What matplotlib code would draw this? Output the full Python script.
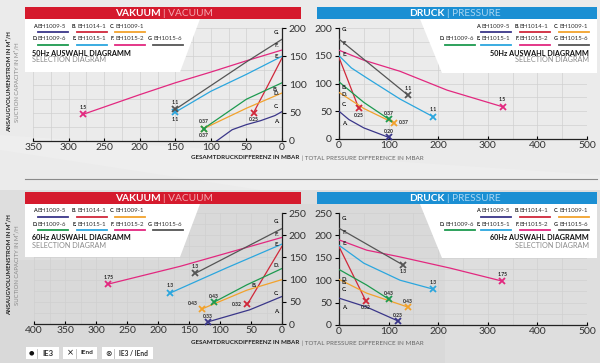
import matplotlib
matplotlib.use('Agg')
import matplotlib.pyplot as plt
from matplotlib.patches import Polygon
from matplotlib.lines import Line2D
from matplotlib.ticker import MultipleLocator

plt.rcParams['font.family'] = ['Lato', 'DejaVu Sans']

# ---------------- data ----------------
letters = ['A', 'B', 'C', 'D', 'E', 'F', 'G']
models = ['BH1009-5', 'BH1014-1', 'BH1009-1', 'BH1009-6', 'BH1015-1', 'BH1015-2', 'BH1015-6']
colors = ['#3a3689', '#d0283a', '#f2a22c', '#1d9a4f', '#2ba6de', '#e2287f', '#555555']

# vacuum 50 Hz: pressure difference (mbar) -> capacity (m3/h)
vac50_A = ([0, 10, 30, 50, 70, 92], [52, 45, 36, 29, 20, 0])
vac50_B = ([0, 20, 40], [147, 98, 50])
vac50_C = ([0, 50, 110], [85, 58, 22])
vac50_D = ([0, 50, 110], [103, 74, 22])
vac50_E = ([0, 50, 100, 150], [150, 118, 88, 51])
vac50_F = ([0, 50, 100, 150, 200, 280], [161, 142, 122, 103, 82, 47])
vac50_G = ([0, 50, 100, 150], [180, 140, 98, 56])
vac50_kw = [None, '0.25', '0.37', '0.37', '1.1', '1.5', '1.1']

# pressure 50 Hz
prs50_A = ([0, 20, 50, 100], [50, 35, 20, 3])
prs50_B = ([0, 40], [147, 55])
prs50_C = ([0, 50, 110], [84, 55, 29])
prs50_D = ([0, 50, 100], [103, 66, 36])
prs50_E = ([0, 25, 56, 123, 190], [150, 128, 110, 72, 40])
prs50_F = ([0, 50, 123, 218, 330], [160, 142, 122, 88, 58])
prs50_G = ([0, 139], [180, 79])
prs50_kw = ['0.20', '0.25', '0.37', '0.37', '1.1', '1.5', '1.1']

# vacuum 60 Hz
vac60_A = ([0, 52, 119], [62, 32, 5])
vac60_B = ([0, 56], [175, 44])
vac60_C = ([0, 57, 129], [100, 76, 34])
vac60_D = ([0, 57, 110], [125, 88, 49])
vac60_E = ([0, 90, 180], [180, 126, 70])
vac60_F = ([0, 164, 280], [195, 130, 90])
vac60_G = ([0, 140], [215, 114])
vac60_kw = ['0.33', '0.32', '0.43', '0.43', '1.3', '1.75', '1.3']

# pressure 60 Hz
prs60_A = ([0, 56, 119], [60, 40, 9])
prs60_B = ([0, 54], [175, 54])
prs60_C = ([0, 56, 139], [102, 71, 40])
prs60_D = ([0, 56, 100], [124, 89, 58])
prs60_E = ([0, 50, 123, 190], [178, 138, 100, 80])
prs60_F = ([0, 56, 123, 224, 329], [190, 167, 152, 127, 98])
prs60_G = ([0, 129], [216, 134])
prs60_kw = ['0.23', '0.32', '0.43', '0.43', '1.3', '1.75', '1.3']

vac50 = [vac50_A, vac50_B, vac50_C, vac50_D, vac50_E, vac50_F, vac50_G]
prs50 = [prs50_A, prs50_B, prs50_C, prs50_D, prs50_E, prs50_F, prs50_G]
vac60 = [vac60_A, vac60_B, vac60_C, vac60_D, vac60_E, vac60_F, vac60_G]
prs60 = [prs60_A, prs60_B, prs60_C, prs60_D, prs60_E, prs60_F, prs60_G]

# ---------------- figure ----------------
W, H = 600, 363
fig = plt.figure(figsize=(6, 3.63), dpi=100)
fig.patch.set_facecolor('#ebebeb')


def P(x, y):
    return (x / W, 1 - y / H)


def poly(pts, color, z, ec='none'):
    fig.add_artist(Polygon([P(*p) for p in pts], closed=True, transform=fig.transFigure,
                           facecolor=color, edgecolor=ec, lw=0.6, zorder=z))


def txt(x, y, s, **kw):
    kw.setdefault('zorder', 5)
    fig.text(x / W, 1 - y / H, s, transform=fig.transFigure, **kw)


# background shapes
poly([(0, 150), (260, 190), (600, 190), (600, 175), (0, 135)], '#eeeeee', -4)
poly([(0, 190), (600, 190), (600, 363), (0, 363)], '#dedede', -4)
poly([(180, 204), (420, 204), (445, 260), (445, 363), (0, 363), (0, 260), (180, 260)], '#d9d9d9', -4)
fig.add_artist(Line2D([25 / W, 597 / W], [1 - 179 / H, 1 - 179 / H], color='#8a8a8a', lw=0.8,
                      transform=fig.transFigure, zorder=-3))

GRID = '#d0d0d0'


def make_ax(x0, x1, ytop, ybot, xlim, ylim, vacuum, xmaj, ymaj):
    ax = fig.add_axes([x0 / W, 1 - ybot / H, (x1 - x0) / W, (ybot - ytop) / H])
    ax.set_facecolor('none')
    ax.set_zorder(0)
    ax.set_xlim(*xlim)
    ax.set_ylim(*ylim)
    ax.xaxis.set_major_locator(MultipleLocator(xmaj))
    ax.xaxis.set_minor_locator(MultipleLocator(xmaj / 2))
    ax.yaxis.set_major_locator(MultipleLocator(ymaj))
    ax.yaxis.set_minor_locator(MultipleLocator(ymaj / 2))
    ax.grid(True, which='both', color=GRID, lw=0.5)
    ax.set_axisbelow(True)
    for s in ['top', 'left', 'right', 'bottom']:
        ax.spines[s].set_color('#222222')
        ax.spines[s].set_linewidth(0.9)
    ax.spines['top'].set_visible(False)
    if vacuum:
        ax.spines['left'].set_visible(False)
        ax.yaxis.tick_right()
    else:
        ax.spines['right'].set_visible(False)
    ax.tick_params(axis='y', which='major', direction='out', length=3, width=0.8,
                   labelsize=7.5, labelcolor='#333333', pad=2)
    ax.tick_params(axis='x', which='major', direction='in', length=2.5, width=0.8,
                   labelsize=7.5, labelcolor='#333333', pad=1.5)
    ax.tick_params(which='minor', length=0)
    return ax


def draw(ax, data, kws, lab_pos, lab_dy):
    for i, (xs, ys) in enumerate(data):
        c = colors[i]
        ax.plot(xs, ys, color=c, lw=0.9, clip_on=True, zorder=3)
        if kws[i] is not None:
            ax.plot(xs[-1], ys[-1], marker='x', ms=4.2, mew=1.3, color=c, zorder=4, clip_on=False)
            dx, dy = lab_pos[i]
            ha = 'center' if dx == 0 else ('left' if dx > 0 else 'right')
            ax.annotate(kws[i], (xs[-1], ys[-1]), xytext=(dx, dy), textcoords='offset points',
                        ha=ha, va='center', fontsize=3.6, fontweight='bold', color='#222222', zorder=5)
        lx, ly = lab_dy[i]
        ax.annotate(letters[i] + '.', (xs[0], ys[0]), xytext=(lx, ly), textcoords='offset points',
                    ha='center', va='center', fontsize=4.2, fontweight='bold', color='#222222', zorder=5)


ax1 = make_ax(33, 282, 28, 141, (350, 0), (0, 200), True, 50, 50)
draw(ax1, vac50, vac50_kw,
     [None, (0, -5), (0, 5), (0, -5), (0, -5), (0, 5), (0, 5)],
     [(-4, -7), (-5, -23), (-4, -10), (-4, -8), (-4, 0), (-4, 3), (-4, 5)])
ax2 = make_ax(339, 587, 28, 139, (0, 500), (0, 200), False, 100, 50)
draw(ax2, prs50, prs50_kw,
     [(0, 4), (0, -5), (4, 0), (0, 4), (0, 5), (0, 5), (0, 5)],
     [(4, -9), (4, -22), (4, -9), (4, -9), (4, 1), (4, 5), (4, 7)])
ax3 = make_ax(34, 282, 213, 324, (400, 0), (0, 250), True, 50, 50)
draw(ax3, vac60, vac60_kw,
     [(0, 4), (-4, 0), (-3, 4), (0, 4), (0, 5), (0, 5), (0, 5)],
     [(-4, -11), (-20, -28), (-4, -10), (-4, 2), (-4, 0), (-4, 2), (-4, 5)])
ax4 = make_ax(339, 587, 213, 325, (0, 500), (0, 250), False, 100, 50)
draw(ax4, prs60, prs60_kw,
     [(0, 4), (0, -5), (0, 4), (0, 4), (0, 5), (0, 5), (0, -5)],
     [(4, -7), (4, -26), (4, -7), (4, -7), (4, 1), (4, 5), (4, 7)])

# ---------------- overlay: headers, white boxes, legends ----------------
RED = '#d51a2d'
BLUE = '#1b8fd3'
NAME_FS = 4.4
LET_FS = 3.9
for yoff in (0, 185):
    poly([(25, 7 + yoff), (301, 7 + yoff), (301, 19 + yoff), (25, 19 + yoff)], RED, 2)
    poly([(317, 7 + yoff), (597, 7 + yoff), (597, 19 + yoff), (317, 19 + yoff)], BLUE, 2)
    poly([(25, 19 + yoff), (200, 19 + yoff), (180, 72 + yoff), (25, 72 + yoff)], 'white', 2)
    poly([(420, 19 + yoff), (597, 19 + yoff), (597, 73 + yoff), (442, 73 + yoff)], 'white', 2)
    txt(161, 13.5 + yoff, 'VAKUUM', ha='right', va='center', fontsize=7.3, fontweight='bold', color='white')
    txt(163, 13.5 + yoff, '| VACUUM', ha='left', va='center', fontsize=7.3, color='#f3aab2')
    txt(445, 13.5 + yoff, 'DRUCK', ha='right', va='center', fontsize=7.3, fontweight='bold', color='white')
    txt(447, 13.5 + yoff, '| PRESSURE', ha='left', va='center', fontsize=7.3, color='#a9d6f2')

    hz = '50Hz' if yoff == 0 else '60Hz'
    colsL = [38, 77, 115, 153]
    rows = [(26, [0, 1, 2]), (39, [3, 4, 5, 6])]
    for ry, idxs in rows:
        for k, i in enumerate(idxs):
            x = colsL[k]
            txt(x - 0.3, ry + yoff, letters[i] + '.', ha='right', va='center', fontsize=LET_FS,
                fontweight='bold', color='#222222')
            txt(x, ry + yoff, models[i], ha='left', va='center', fontsize=NAME_FS, color='#333333')
            fig.add_artist(Line2D([x / W, (x + 30) / W], [1 - (ry + 6 + yoff) / H] * 2, color=colors[i],
                                  lw=1.3, transform=fig.transFigure, zorder=5))
    txt(32, 53 + yoff, hz + ' AUSWAHL DIAGRAMM', ha='left', va='center', fontsize=5.2,
        fontweight='bold', color='#111111')
    txt(32, 60 + yoff, 'SELECTION DIAGRAM', ha='left', va='center', fontsize=5.2, color='#8a8a8a')
    colsR = [445, 481, 520, 559]
    rowsR = [(26, [None, 0, 1, 2]), (39, [3, 4, 5, 6])]
    for ry, idxs in rowsR:
        for k, i in enumerate(idxs):
            if i is None:
                continue
            x = colsR[k]
            txt(x - 0.3, ry + yoff, letters[i] + '.', ha='right', va='center', fontsize=LET_FS,
                fontweight='bold', color='#222222')
            txt(x, ry + yoff, models[i], ha='left', va='center', fontsize=NAME_FS, color='#333333')
            fig.add_artist(Line2D([x / W, (x + 30) / W], [1 - (ry + 6 + yoff) / H] * 2, color=colors[i],
                                  lw=1.3, transform=fig.transFigure, zorder=5))
    txt(589, 53 + yoff, hz + ' AUSWAHL DIAGRAMM', ha='right', va='center', fontsize=5.2,
        fontweight='bold', color='#111111')
    txt(589, 60 + yoff, 'SELECTION DIAGRAM', ha='right', va='center', fontsize=5.2, color='#8a8a8a')

for yc in (82, 265):
    txt(9, yc, 'ANSAUGVOLUMENSTROM IN M³/H', rotation=90, ha='center', va='center',
        fontsize=4.3, fontweight='bold', color='#222222')
    txt(17, yc, 'SUCTION CAPACITY IN M³/H', rotation=90, ha='center', va='center',
        fontsize=4.3, color='#888888')
for yc in (158, 343):
    txt(299, yc, 'GESAMTDRUCKDIFFERENZ IN MBAR', ha='right', va='center', fontsize=4.5,
        fontweight='bold', color='#222222')
    txt(300, yc, ' | TOTAL PRESSURE DIFFERENCE IN MBAR', ha='left', va='center', fontsize=4.5,
        color='#666666')

boxes = [(26, 59), (63, 97), (102, 153)]
for bx0, bx1 in boxes:
    poly([(bx0, 347), (bx1, 347), (bx1, 359), (bx0, 359)], 'white', 2)
for d in (37, 76, 114):
    fig.add_artist(Line2D([d / W] * 2, [1 - 348.5 / H, 1 - 357.5 / H], color='#bbbbbb', lw=0.6,
                          transform=fig.transFigure, zorder=4))
txt(31, 353, '●', ha='center', va='center', fontsize=4.5, color='#111111', family='DejaVu Sans')
txt(48, 353, 'IE3', ha='center', va='center', fontsize=5.5, fontweight='bold', color='#2a2a2a')
txt(70, 353, '×', ha='center', va='center', fontsize=6, color='#111111', family='DejaVu Sans')
txt(87, 353, 'IEnd', ha='center', va='center', fontsize=4.6, fontweight='bold', color='#2a2a2a')
txt(108, 353, '⊗', ha='center', va='center', fontsize=5.5, color='#111111', family='DejaVu Sans')
txt(133, 353, 'IE3 / IEnd', ha='center', va='center', fontsize=4.8, fontweight='bold', color='#2a2a2a')

fig.savefig('out.png', dpi=100, facecolor=fig.get_facecolor())
